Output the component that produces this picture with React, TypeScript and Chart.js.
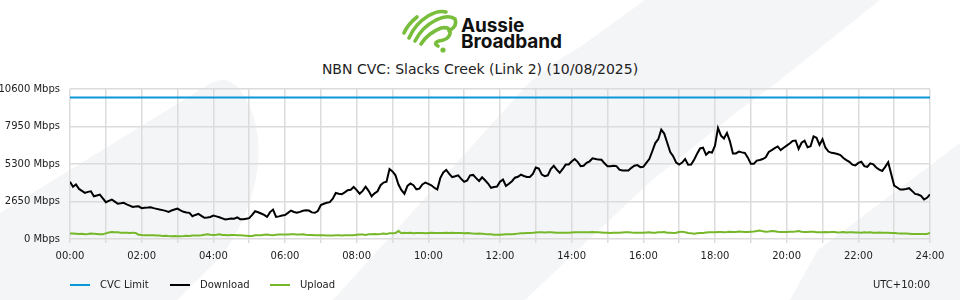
import React, { useEffect, useRef } from 'react';
import { Chart, registerables } from 'chart.js';

Chart.register(...registerables);

// ---- data ----
const chartTitle = 'NBN CVC: Slacks Creek (Link 2) (10/08/2025)';
const timezoneLabel = 'UTC+10:00';
const intervalMinutes = 5;
const xTickLabels = ['00:00', '02:00', '04:00', '06:00', '08:00', '10:00', '12:00', '14:00', '16:00', '18:00', '20:00', '22:00', '24:00'];
const yTickValues = [0, 2650, 5300, 7950, 10600];
const seriesNames = ['CVC Limit', 'Download', 'Upload'];
const cvcLimit = 10000;

// Download (Mbps), one value every 5 minutes from 00:00 to 24:00
const download = [
  4040, 3690, 3850, 3540, 3400, 3260, 3330, 3370, 3020, 3080, 3140, 2870,
  2600, 2700, 2790, 2640, 2490, 2520, 2560, 2450, 2360, 2270, 2300, 2310,
  2180, 2200, 2220, 2245, 2180, 2130, 2080, 2040, 1990, 1920, 2010, 2080,
  2150, 2030, 1920, 1880, 1850, 1610, 1700, 1780, 1640, 1500, 1520, 1560,
  1650, 1600, 1540, 1460, 1380, 1410, 1450, 1430, 1530, 1400, 1390, 1430,
  1470, 1700, 1960, 1890, 1800, 1700, 1560, 1900, 2080, 1560, 1600, 1660,
  1700, 1850, 2010, 1910, 1850, 1920, 2000, 2030, 2010, 1880, 1850, 1980,
  2400, 2490, 2560, 2600, 2850, 3250, 3200, 3160, 3300, 3450, 3480, 3680,
  3450, 3200, 3400, 3700, 3400, 3020, 3230, 3370, 3800, 3990, 4050, 4950,
  4780, 4500, 3850, 3450, 3200, 3750, 3920, 3800, 3510, 3560, 3850, 3990,
  3900, 3800, 3620, 3500, 4300, 4700, 4880, 4600, 4370, 4430, 4500, 4250,
  4040, 4140, 4500, 4530, 4300, 4100, 4360, 4150, 3920, 3620, 3670, 3710,
  4050, 4200, 3750, 3900, 4080, 4330, 4400, 4550, 4450, 4380, 4380, 4600,
  5050, 4970, 4550, 4440, 4500, 4950, 5170, 4900, 4680, 4950, 5260, 5260,
  5480, 5650, 5450, 5150, 5180, 5380, 5490, 5700, 5660, 5610, 5600, 5350,
  5140, 5140, 5180, 5150, 4900, 4840, 4840, 4840, 5030, 5180, 5220, 5080,
  5100, 5380, 5650, 6200, 6780, 7050, 7730, 7450, 6800, 6150, 5850, 5400,
  5260, 5400, 5650, 5250, 5260, 5600, 6020, 6400, 6450, 5950, 6150, 6100,
  6600, 7850, 7300, 7100, 7500, 6900, 6050, 6050, 6180, 6120, 6080, 5750,
  5310, 5310, 5540, 5580, 5650, 5770, 6150, 6280, 6420, 6540, 6280, 6450,
  6600, 6750, 6930, 6960, 6370, 6800, 6950, 6480, 6550, 7250, 7150, 6650,
  7050, 6450, 6180, 6090, 6060, 6010, 5930, 5720, 5580, 5450, 5250, 5200,
  5380, 5460, 5150, 5100, 5350, 5280, 5050, 4900, 4810, 5100, 5420, 4600,
  3780, 3640, 3500, 3500, 3540, 3590, 3400, 3190, 3140, 3050, 2800, 2910,
  3150,
];

// Upload (Mbps), one value every 5 minutes from 00:00 to 24:00
const upload = [
  390, 380, 370, 360, 370, 330, 350, 380, 370, 350, 330, 340,
  400, 460, 490, 480, 470, 450, 440, 440, 430, 450, 420, 300,
  280, 270, 270, 270, 260, 250, 240, 220, 230, 210, 200, 210,
  200, 200, 210, 230, 220, 250, 240, 250, 260, 300, 330, 300,
  290, 300, 330, 290, 280, 270, 290, 280, 270, 260, 250, 230,
  210, 220, 260, 270, 260, 300, 310, 280, 270, 300, 310, 320,
  320, 320, 330, 330, 320, 320, 330, 300, 280, 280, 270, 270,
  270, 260, 250, 250, 250, 260, 260, 250, 260, 260, 270, 270,
  300, 320, 320, 280, 330, 330, 360, 340, 350, 380, 360, 400,
  410, 420, 560, 410, 440, 420, 440, 410, 430, 420, 420, 410,
  430, 440, 420, 430, 420, 430, 440, 420, 440, 430, 420, 420,
  410, 420, 400, 380, 370, 380, 370, 350, 340, 330, 300, 300,
  300, 320, 330, 340, 330, 360, 380, 400, 400, 420, 430, 440,
  460, 470, 470, 460, 470, 470, 460, 450, 450, 440, 440, 450,
  460, 470, 470, 480, 470, 470, 480, 490, 480, 470, 460, 440,
  440, 430, 450, 440, 440, 460, 470, 480, 460, 450, 440, 450,
  450, 460, 470, 440, 450, 470, 480, 490, 450, 440, 430, 440,
  500, 520, 480, 420, 400, 380, 400, 420, 430, 460, 470, 480,
  480, 500, 490, 470, 490, 520, 500, 490, 530, 520, 500, 490,
  520, 530, 560, 600, 540, 520, 530, 560, 550, 520, 500, 490,
  500, 520, 510, 530, 560, 520, 490, 500, 520, 510, 480, 470,
  480, 490, 470, 500, 490, 460, 470, 490, 460, 470, 480, 460,
  460, 450, 470, 460, 470, 450, 440, 460, 450, 440, 440, 430,
  420, 400, 390, 380, 380, 370, 360, 350, 360, 350, 350, 360,
  420,
];

const seriesColors = ['#0a97d9', '#000000', '#76b82a'];
const FONT = "'DejaVu Sans', sans-serif";
const BG_GRAY = '#f4f5f7';

const toPoints = (arr: number[]) => arr.map((v, i) => ({ x: i * intervalMinutes, y: v }));

function Logo() {
  const g = '#78be3c';
  return (
    <svg width={960} height={60} style={{ position: 'absolute', left: 0, top: 0 }}>
      <g fill="none" stroke={g} strokeWidth={3.6} strokeLinecap="round" strokeLinejoin="round">
        <path d="M404,33 Q408,24 417,17" />
        <path d="M409,38 Q415,24 428,16 Q438,10 446,12" />
        <path d="M415,41 Q422,27 436,20 Q449,14 455,19 Q458,26 449,31" />
        <path d="M421,44 Q428,33 441,28 Q451,26 450,34 Q448,40 439,41 Q433,43 438,46" />
      </g>
      <circle cx={443} cy={50} r={2.6} fill={g} />
      <text x={461} y={32.3} fontFamily="Inter, Roboto, sans-serif" fontWeight={700} fontSize={19} letterSpacing={-0.1} fill="#111">Aussie</text>
      <text x={461} y={47.9} fontFamily="Inter, Roboto, sans-serif" fontWeight={700} fontSize={19} letterSpacing={-0.1} fill="#111">Broadband</text>
    </svg>
  );
}

function Background() {
  return (
    <svg width={960} height={300} style={{ position: 'absolute', left: 0, top: 0 }}>
      <path d="M0,300 L0,213 L208,85 Q226,73 240,90 Q262,120 258,165 Q252,215 220,258 L177,300 Z" fill={BG_GRAY} />
      <path d="M333,300 L527,85 Q552,62 580,47 L645,0 L880,0 L780,80 L733,115 L650,182 L583,245 L525,300 Z" fill={BG_GRAY} />
      <path d="M960,143 L818,250 L790,300 L960,300 Z" fill={BG_GRAY} />
    </svg>
  );
}

export default function App() {
  const canvasRef = useRef<HTMLCanvasElement | null>(null);

  useEffect(() => {
    if (!canvasRef.current) return;
    const chart = new Chart(canvasRef.current, {
      type: 'line',
      data: {
        datasets: [
          {
            label: seriesNames[0],
            data: [{ x: 0, y: cvcLimit }, { x: (download.length - 1) * intervalMinutes, y: cvcLimit }],
            borderColor: seriesColors[0],
            borderWidth: 2,
            pointRadius: 0,
          },
          {
            label: seriesNames[1],
            data: toPoints(download),
            borderColor: seriesColors[1],
            borderWidth: 2,
            pointRadius: 0,
            tension: 0,
          },
          {
            label: seriesNames[2],
            data: toPoints(upload),
            borderColor: seriesColors[2],
            borderWidth: 2,
            pointRadius: 0,
            tension: 0,
          },
        ],
      },
      options: {
        animation: false,
        responsive: false,
        maintainAspectRatio: false,
        layout: { padding: { top: 89, right: 30, left: 0, bottom: 0 } },
        plugins: {
          legend: { display: false },
          title: { display: false },
          tooltip: { enabled: false },
        },
        scales: {
          x: {
            type: 'linear',
            min: 0,
            max: 1440,
            ticks: {
              stepSize: 60,
              autoSkip: false,
              maxRotation: 0,
              padding: 7,
              color: '#222',
              font: { family: FONT, size: 10 },
              callback: (v: any) => (Number(v) % 120 === 0 ? xTickLabels[Number(v) / 120] : ''),
            },
            grid: { color: '#dcdcdc', lineWidth: 1.5, tickLength: 4 },
            border: { display: false },
            afterFit: (s: any) => { s.height = 61; },
          },
          y: {
            min: 0,
            max: 10600,
            afterBuildTicks: (s: any) => { s.ticks = yTickValues.map((v) => ({ value: v })); },
            ticks: {
              padding: 10,
              color: '#222',
              font: { family: FONT, size: 10 },
              callback: (v: any) => `${v} Mbps`,
            },
            grid: { color: '#dcdcdc', lineWidth: 1.5, drawTicks: false },
            border: { display: false },
            afterFit: (s: any) => { s.width = 70; },
          },
        },
      },
    } as any);
    return () => chart.destroy();
  }, []);

  const legendItems = [
    { name: seriesNames[0], color: seriesColors[0], x: 70 },
    { name: seriesNames[1], color: seriesColors[1], x: 170 },
    { name: seriesNames[2], color: seriesColors[2], x: 270 },
  ];

  return (
    <div style={{ position: 'fixed', left: 0, top: 0, width: 960, height: 300, background: '#fff', overflow: 'hidden', fontFamily: FONT }}>
      <Background />
      <Logo />
      <div style={{ position: 'absolute', left: 0, top: 61, width: 960, textAlign: 'center', fontSize: 14, lineHeight: '17px', color: '#222' }}>
        {chartTitle}
      </div>
      <canvas ref={canvasRef} width={960} height={300} style={{ position: 'absolute', left: 0, top: 0, width: 960, height: 300 }} />
      {legendItems.map((it) => (
        <React.Fragment key={it.name}>
          <div style={{ position: 'absolute', left: it.x, top: 284, width: 20, height: 2, background: it.color }} />
          <div style={{ position: 'absolute', left: it.x + 30, top: 279, fontSize: 10, lineHeight: '12px', color: '#222', whiteSpace: 'nowrap' }}>{it.name}</div>
        </React.Fragment>
      ))}
      <div style={{ position: 'absolute', right: 30, top: 279, fontSize: 10, lineHeight: '12px', color: '#222', whiteSpace: 'nowrap' }}>{timezoneLabel}</div>
    </div>
  );
}
